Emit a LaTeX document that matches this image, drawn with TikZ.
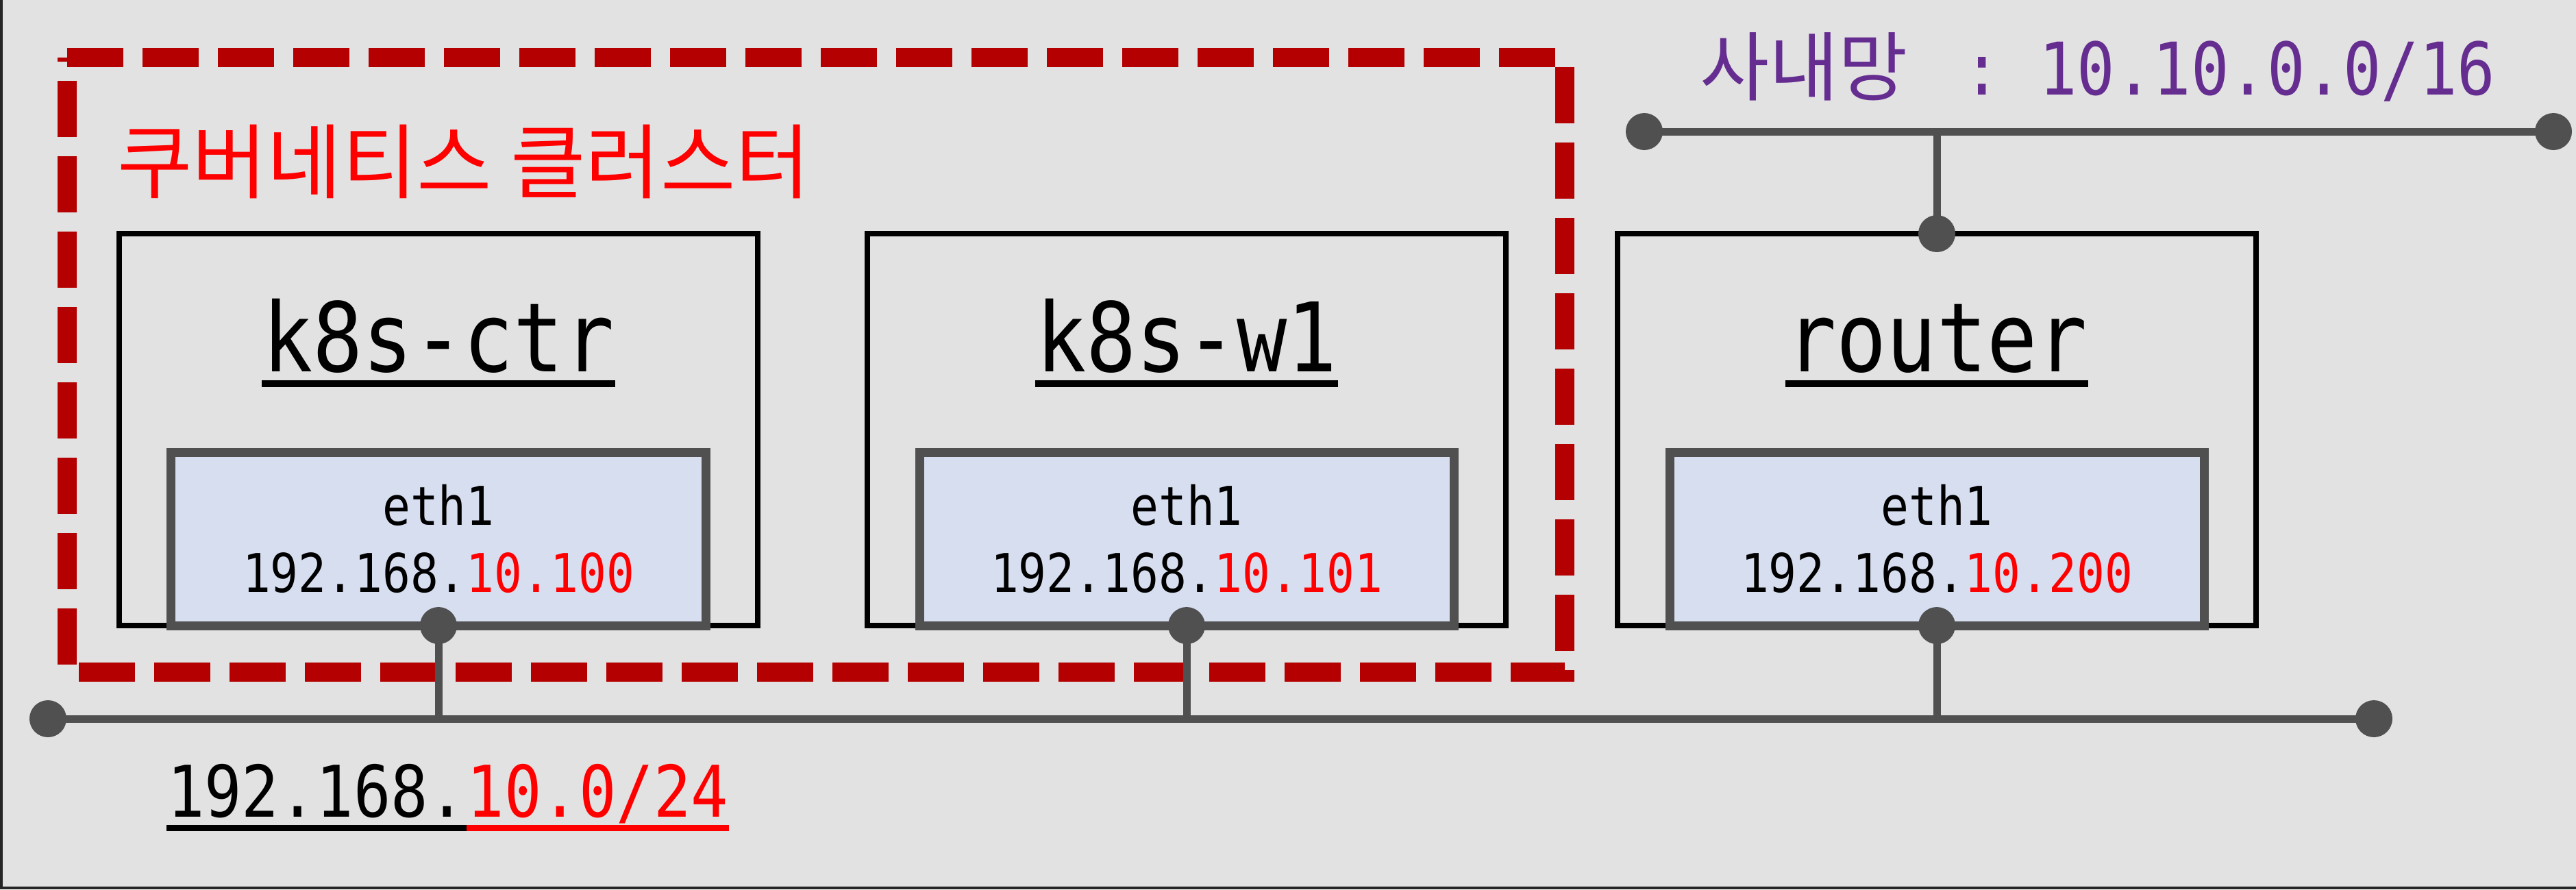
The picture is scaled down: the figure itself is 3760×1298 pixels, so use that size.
\documentclass[tikz,border=0pt]{standalone}
\usepackage{fontspec}
\setmonofont[FakeStretch=0.87]{DejaVu Sans Mono}
\newfontfamily\krfont{Noto Sans CJK KR}
\definecolor{bggray}{RGB}{226,226,226}
\definecolor{netgray}{RGB}{80,80,80}
\definecolor{ifblue}{RGB}{214,222,240}
\definecolor{clusterred}{RGB}{180,0,0}
\definecolor{corppurple}{RGB}{102,45,145}

\begin{document}
\begin{tikzpicture}[x=0.2pt, y=-0.2pt,
    host/.style={rectangle, draw=black, line width=1.6pt, minimum width=186.4pt, minimum height=114.4pt, outer sep=0pt, inner sep=0pt},
    iface/.style={rectangle, draw=netgray, fill=ifblue, line width=2.6pt, minimum width=156pt, minimum height=50.6pt, outer sep=0pt, inner sep=0pt, align=center, font=\fontsize{15.6pt}{19.6pt}\selectfont\ttfamily},
    hostname/.style={inner sep=0pt, anchor=base, font=\fontsize{28pt}{34pt}\selectfont\ttfamily},
    netlabel/.style={inner sep=0pt, anchor=base west, font=\fontsize{20.8pt}{24pt}\selectfont\ttfamily},
    wire/.style={netgray, line width=2.2pt},
    uline/.style={line width=2pt}]
        \useasboundingbox (0,0) rectangle (3760,1298);
        \fill[bggray] (0,0) rectangle (3760,1298);
        \draw[black!85, line width=0.8pt] (2,0) -- (2,1296) -- (3760,1296);

        % cluster frame
        \draw[clusterred, line width=5.6pt, dash pattern=on 16.4pt off 5.6pt] (98,84) -- (2284,84) -- (2284,981) -- (98,981) -- cycle;
        \node (cluster-name) [anchor=base west, inner sep=0pt, text=red, font=\krfont\fontsize{23.8pt}{28pt}\selectfont] at (170,280) {쿠버네티스 클러스터};

        % hosts with their eth1
        \foreach \n/\x/\hname/\ip in {ctr/640/k8s-ctr/10.100, w1/1732/k8s-w1/10.101, rt/2827/router/10.200} {
            \node (\n) [host] at (\x,627) {};
            \node (\n-name) [hostname] at (\x,542) {\hname};
            \draw[uline] ([yshift=-3.6pt]\n-name.base west) -- ([yshift=-3.6pt]\n-name.base east);
            \node (\n-if) [iface, anchor=south] at (\n.south) {eth1\\192.168.\textcolor{red}{\ip}};
        }

        % 192.168.10.0/24
        \coordinate (lan-l) at (70,1049);
        \coordinate (lan-r) at (3465,1049);
        \draw[wire] (lan-l) -- (lan-r);
        \foreach \n in {ctr,w1,rt} {
            \draw[wire] (\n-if.south) -- (\n-if.south |- lan-l);
            \fill[netgray] (\n-if.south) circle[radius=5.4pt];
        }
        \fill[netgray] (lan-l) circle[radius=5.4pt];
        \fill[netgray] (lan-r) circle[radius=5.4pt];
        \node (net-a) [netlabel] at (243,1192) {192.168.};
        \node (net-b) [netlabel, text=red] at (net-a.base east) {10.0/24};
        \draw[line width=1.8pt] ([yshift=-3.2pt]net-a.base west) -- ([yshift=-3.2pt]net-a.base east);
        \draw[line width=1.8pt, red] ([yshift=-3.2pt]net-b.base west) -- ([yshift=-3.2pt]net-b.base east);

        % corporate network
        \coordinate (corp-l) at (2400,192);
        \coordinate (corp-r) at (3727,192);
        \draw[wire] (corp-l) -- (corp-r);
        \draw[wire] (rt.north |- corp-l) -- (rt.north);
        \fill[netgray] (rt.north) circle[radius=5.4pt];
        \fill[netgray] (corp-l) circle[radius=5.4pt];
        \fill[netgray] (corp-r) circle[radius=5.4pt];
        \node (corp-name) [anchor=base west, inner sep=0pt, text=corppurple, font=\fontsize{21.2pt}{24pt}\selectfont\ttfamily] at (2480,138) {{\krfont\fontsize{22pt}{24pt}\selectfont 사내망}\hspace{5pt} : 10.10.0.0/16};
    \end{tikzpicture}
\end{document}
